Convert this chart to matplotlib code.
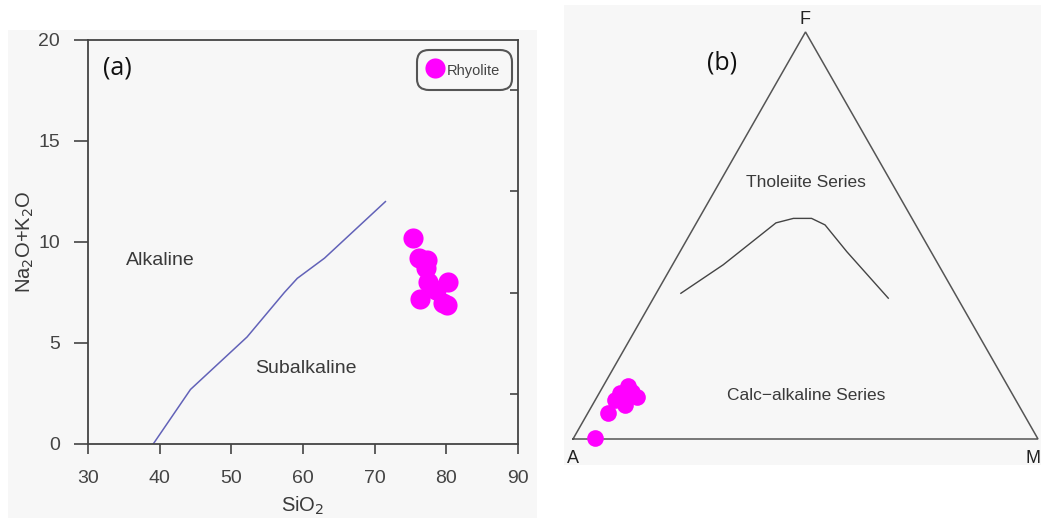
import numpy as np
import matplotlib
matplotlib.use("Agg")
import matplotlib.pyplot as plt
from matplotlib.patches import Rectangle
from matplotlib.ticker import FixedLocator

plt.rcParams['font.family'] = ['Liberation Sans', 'DejaVu Sans']

# ---------------- data ----------------
# (a) TAS-type plot: alkaline / subalkaline boundary
boundary_sio2 = [39.1, 44.3, 52.2, 57.4, 59.2, 63.0, 71.5]
boundary_alk = [0.0, 2.7, 5.3, 7.5, 8.2, 9.2, 12.0]

rhyolite_sio2 = [75.4, 76.2, 77.3, 77.2, 77.5, 80.3, 76.3, 78.6, 79.6, 80.1]
rhyolite_alk = [10.2, 9.2, 9.1, 8.7, 8.0, 8.0, 7.2, 7.6, 7.0, 6.9]

x_ticks = [30, 40, 50, 60, 70, 80, 90]
y_ticks = [0, 5, 10, 15, 20]
y_right_ticks = [2.5, 7.5, 12.5, 17.5]

# (b) AFM ternary: tholeiite / calc-alkaline boundary (F, A, M in %)
curve_F = [35.8, 42.8, 53.1, 54.2, 54.2, 52.6, 46.0, 34.6]
curve_A = [58.9, 46.3, 29.8, 25.5, 21.6, 19.5, 18.1, 14.9]
curve_M = [5.3, 10.9, 17.1, 20.3, 24.2, 27.9, 35.9, 50.5]

samples_F = [0.2, 6.3, 12.9, 10.4, 8.4, 9.6, 11.2, 11.6]
samples_A = [95.2, 89.4, 81.7, 81.1, 84.6, 86.2, 84.3, 81.6]
samples_M = [4.6, 4.3, 5.4, 8.5, 7.0, 4.2, 4.5, 6.8]


def tern(F, A, M):
    F = np.asarray(F, float); A = np.asarray(A, float); M = np.asarray(M, float)
    s = F + A + M
    f = F / s; m = M / s
    return m + f / 2.0, f * np.sqrt(3) / 2.0


W, H = 1041, 518
fig = plt.figure(figsize=(W / 100, H / 100), dpi=100)
fig.patch.set_facecolor('white')

BG = '#f7f7f7'
TXT = '#3a3a3a'

def px_rect(x0, y0, x1, y1):
    return [x0 / W, 1 - y1 / H, (x1 - x0) / W, (y1 - y0) / H]

# panel backgrounds
for (x0, y0, x1, y1) in [(8, 30, 537, 518), (564, 5, 1041, 465)]:
    r = px_rect(x0, y0, x1, y1)
    fig.patches.append(Rectangle((r[0], r[1]), r[2], r[3], transform=fig.transFigure,
                                 facecolor=BG, edgecolor='none', zorder=-10))

# ---------------- panel (a) ----------------
ax = fig.add_axes(px_rect(88, 40, 518, 444))
ax.set_facecolor(BG)
ax.set_xlim(30, 90)
ax.set_ylim(0, 20)
ax.set_xticks(x_ticks)
ax.set_yticks(y_ticks)
ax.yaxis.set_minor_locator(FixedLocator(y_right_ticks))
ax.tick_params(which='major', direction='out', width=1.2, color='#444444',
               labelsize=14, labelcolor='#444444', left=True, right=False, top=False)
ax.tick_params(axis='x', which='major', length=7, pad=12)
ax.tick_params(axis='y', which='major', length=10, pad=10)
ax.tick_params(which='minor', axis='y', direction='in', left=False, right=True,
               length=6, width=1.2, color='#444444')
ax.tick_params(which='minor', axis='x', bottom=False)
for sp in ax.spines.values():
    sp.set_color('#444444')
    sp.set_linewidth(1.3)

ax.plot(boundary_sio2, boundary_alk, color='#6262b8', lw=1.1, zorder=2)
ax.plot(rhyolite_sio2, rhyolite_alk, 'o', color='#ff00ff', markersize=14.5,
        markeredgewidth=0, linestyle='none', label='Rhyolite', zorder=3)

ax.text(32.1, 18.6, '(a)', fontsize=18, color='#111111', ha='left', va='center',
        family=['Open Sans', 'DejaVu Sans'])
ax.text(40.05, 9.06, 'Alkaline', fontsize=14, color=TXT, ha='center', va='center')
ax.text(60.4, 3.76, 'Subalkaline', fontsize=14, color=TXT, ha='center', va='center')

ax.set_xlabel('SiO$_2$', fontsize=14.5, color=TXT, labelpad=5)
ax.set_ylabel('Na$_2$O+K$_2$O', fontsize=14.5, color=TXT, labelpad=2)

leg = ax.legend(loc='upper right', bbox_to_anchor=(509 / W, 1 - 53 / H),
                bbox_transform=fig.transFigure, frameon=True, fancybox=True,
                fontsize=10.5, handlelength=0.9, handleheight=1.4,
                handletextpad=0.35, borderpad=0.6,
                borderaxespad=0, markerscale=1.0)
frame = leg.get_frame()
frame.set_edgecolor('#555555')
frame.set_linewidth(1.5)
frame.set_facecolor(BG)
frame.set_alpha(1)
frame.set_boxstyle('round,pad=0.2,rounding_size=0.8')
for t in leg.get_texts():
    t.set_color('#444444')

# ---------------- panel (b) ----------------
bx = fig.add_axes(px_rect(564, 5, 1041, 465))
bx.set_axis_off()
bx.set_xlim(-9 / 465, 468 / 465)
bx.set_ylim(-26 / 470, 434 / 470)

tx, ty = tern([0, 0, 100, 0], [100, 0, 0, 100], [0, 100, 0, 0])
bx.plot(tx, ty, color='#555555', lw=1.1, solid_joinstyle='miter', clip_on=False)

cx, cy = tern(curve_F, curve_A, curve_M)
bx.plot(cx, cy, color='#444444', lw=1.0)

sx, sy = tern(samples_F, samples_A, samples_M)
bx.plot(sx, sy, 'o', color='#ff00ff', markersize=12, markeredgewidth=0,
        linestyle='none', zorder=3)

bx.text(0.499, 0.893, 'F', fontsize=13, color='#222222', ha='center', va='center')
bx.text(0.0, -0.042, 'A', fontsize=13, color='#222222', ha='center', va='center')
bx.text(0.990, -0.042, 'M', fontsize=13, color='#222222', ha='center', va='center')
bx.text(0.320, 0.800, '(b)', fontsize=18, color='#111111', ha='center', va='center',
        family=['Open Sans', 'DejaVu Sans'])
bx.text(0.501, 0.545, 'Tholeiite Series', fontsize=12.5, color=TXT, ha='center', va='center')
bx.text(0.501, 0.0936, 'Calc\u2212alkaline Series', fontsize=12.5, color=TXT,
        ha='center', va='center')

fig.savefig('out.png', dpi=100, facecolor='white')
